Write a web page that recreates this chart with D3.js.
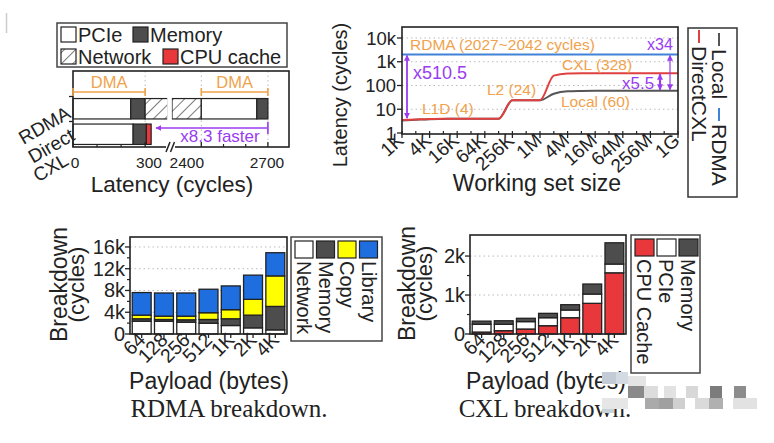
<!DOCTYPE html>
<html><head><meta charset="utf-8">
<script src="https://cdn.jsdelivr.net/npm/d3@7"></script>
<style>
body{margin:0;background:#fff}
svg{display:block}
text{font-family:"Liberation Sans",Arial,Helvetica,sans-serif;fill:#222}
</style>
</head><body>
<svg id="c" width="774" height="443"></svg>
<script>
// ---------------- DATA ----------------
// Panel A: latency breakdown (cycles)
const latCategories = ["RDMA", "Direct CXL"];
const rdmaStages = ["PCIe", "Memory", "Network", "PCIe", "Memory"];
const rdmaStageCycles = [240, 60, 2100, 250, 50];
const cxlStages = ["PCIe", "Memory", "CPU cache"];
const cxlStageCycles = [250, 55, 20];
const latTickValues = [0, 300, 2400, 2700];
const latMinorTicks = [100, 200, 2500, 2600];

// Panel B: latency vs working set size
const wsBytes = [1024, 2048, 4096, 8192, 16384, 32768, 65536, 131072, 262144, 524288,
  1048576, 2097152, 4194304, 8388608, 16777216, 33554432, 67108864, 134217728,
  268435456, 536870912, 1073741824];
const directCxlLatency = [3.5, 3.7, 3.9, 4, 4, 4, 4, 4, 24, 24, 24, 260, 318, 326, 328, 328, 328, 328, 328, 328, 328];
const localLatency = [3.4, 3.6, 3.8, 3.9, 4, 4, 4, 4, 24, 24, 24, 45, 57, 59, 60, 60, 60, 60, 60, 60, 60];
const rdmaLatency = [2035, 2035, 2035, 2035, 2035, 2035, 2035, 2035, 2035, 2035, 2035, 2035, 2035, 2035, 2035, 2035, 2035, 2035, 2035, 2035, 2035];
const wsTickBytes = [1024, 4096, 16384, 65536, 262144, 1048576, 4194304, 16777216, 67108864, 268435456, 1073741824];
const wsTickLabels = ["1K", "4K", "16K", "64K", "256K", "1M", "4M", "16M", "64M", "256M", "1G"];
const latencyTicks = [1, 10, 100, 1000, 10000];
const latencyTickLabels = ["1", "10", "100", "1k", "10k"];

// Panel C: RDMA breakdown (cycles)
const payloads = ["64", "128", "256", "512", "1K", "2K", "4K"];
const rdmaNetwork = [2350, 2350, 2170, 1980, 1560, 1130, 760];
const rdmaMemory = [450, 320, 440, 690, 1240, 2340, 4310];
const rdmaCopy = [670, 610, 670, 1240, 1670, 2900, 5610];
const rdmaLibrary = [4150, 4260, 4260, 4320, 4370, 4450, 4260];
const rdmaTicks = [0, 4000, 8000, 12000, 16000];
const rdmaTickLabels = ["0", "4k", "8k", "12k", "16k"];

// Panel D: CXL breakdown (cycles)
const cxlCache = [50, 85, 128, 213, 418, 787, 1570];
const cxlPcie = [200, 165, 190, 205, 197, 238, 225];
const cxlMemory = [80, 90, 85, 112, 137, 257, 545];
const cxlTicks = [0, 1000, 2000];
const cxlTickLabels = ["0", "1k", "2k"];

// ---------------- STYLE ----------------
const COL = {
  pcie: "#ffffff", memory: "#4d4d4d", cache: "#e8383b", copy: "#ffff00",
  library: "#1e6ee0", orange: "#f0a24c", purple: "#9a3cf0",
  red: "#e04040", blue: "#3f82d8", gray: "#555555", frame: "#222"
};
const svg = d3.select("#c");
const defs = svg.append("defs");
const hatch = defs.append("pattern").attr("id", "hatch").attr("patternUnits", "userSpaceOnUse")
  .attr("width", 8).attr("height", 8).attr("patternTransform", "rotate(45)");
hatch.append("rect").attr("width", 8).attr("height", 8).attr("fill", "#fff");
hatch.append("line").attr("x1", 0).attr("y1", 0).attr("x2", 0).attr("y2", 8)
  .attr("stroke", "#333").attr("stroke-width", 1.3);
const mk = defs.append("marker").attr("id", "ah").attr("viewBox", "0 0 10 10")
  .attr("refX", 9).attr("refY", 5).attr("markerWidth", 6).attr("markerHeight", 6)
  .attr("markerUnits", "userSpaceOnUse").attr("orient", "auto-start-reverse");
mk.append("path").attr("d", "M0,0L10,5L0,10Z").attr("fill", COL.purple);

function txt(g, x, y, s, size, opt = {}) {
  const t = g.append("text").attr("x", x).attr("y", y).text(s)
    .style("font-size", size + "px").attr("text-anchor", opt.anchor || "start");
  if (opt.fill) t.style("fill", opt.fill);
  if (opt.rot !== undefined) t.attr("x", 0).attr("y", 0).attr("transform", `translate(${x},${y}) rotate(${opt.rot})`);
  if (opt.family) t.style("font-family", opt.family);
  return t;
}
function frame(g, l, t, r, b) {
  g.append("rect").attr("x", l).attr("y", t).attr("width", r - l).attr("height", b - t)
    .attr("fill", "none").attr("stroke", COL.frame).attr("stroke-width", 1.6);
}
function vArrow(g, x, y1, y2, w) {
  g.append("line").attr("x1", x).attr("x2", x).attr("y1", y1).attr("y2", y2)
    .attr("stroke", COL.purple).attr("stroke-width", w)
    .attr("marker-start", "url(#ah)").attr("marker-end", "url(#ah)");
}

// faint artifact line top-left
svg.append("line").attr("x1", 6.5).attr("x2", 6.5).attr("y1", 13).attr("y2", 33).attr("stroke", "#ccc").attr("stroke-width", 1.5);

// ================= PANEL A =================
{
  const g = svg.append("g");
  const L = 73, R = 289, T = 71, B = 147;
  const x1 = d3.scaleLinear().domain([0, 395]).range([L, 168]);
  const x2 = d3.scaleLinear().domain([2268, 2795]).range([172, R]);
  const brk = [395, 2268];
  const xA = v => v <= brk[0] ? x1(v) : x2(v);
  const y = d3.scaleBand().domain(latCategories).range([96, 147]).paddingInner(0.2).paddingOuter(0.1);

  // legend
  g.append("rect").attr("x", 57).attr("y", 23).attr("width", 230).attr("height", 44)
    .attr("fill", "#fff").attr("stroke", "#444").attr("stroke-width", 1.5);
  const leg = [["PCIe", COL.pcie, 61, 27], ["Memory", COL.memory, 133, 27],
               ["Network", "url(#hatch)", 61, 49], ["CPU cache", COL.cache, 163, 49]];
  leg.forEach(([n, c, lx, ly]) => {
    g.append("rect").attr("x", lx).attr("y", ly).attr("width", 15).attr("height", 15)
      .attr("fill", c).attr("stroke", "#222").attr("stroke-width", 1.2);
    txt(g, lx + 17, ly + 15, n, 20);
  });

  // dotted grid
  [300, 2400, 2700].forEach(v => g.append("line").attr("x1", xA(v)).attr("x2", xA(v))
    .attr("y1", T).attr("y2", B).attr("stroke", "#bbb").attr("stroke-dasharray", "1.5,3"));

  // bars
  const colorOf = { "PCIe": COL.pcie, "Memory": COL.memory, "Network": "url(#hatch)", "CPU cache": COL.cache };
  function drawBar(cat, stages, cycles) {
    let acc = 0;
    stages.forEach((s, i) => {
      const a = acc, b = acc + cycles[i]; acc = b;
      const pieces = (a < brk[0] && b > brk[1]) ? [[a, brk[0]], [brk[1], b]] : [[a, b]];
      pieces.forEach(([p, q]) => g.append("rect").attr("x", xA(p)).attr("y", y(cat))
        .attr("width", xA(q) - xA(p)).attr("height", y.bandwidth())
        .attr("fill", colorOf[s]).attr("stroke", "#222").attr("stroke-width", 1.2));
    });
  }
  drawBar("RDMA", rdmaStages, rdmaStageCycles);
  drawBar("Direct CXL", cxlStages, cxlStageCycles);
  // break gap
  g.append("rect").attr("x", 167.2).attr("y", y("RDMA") - 2).attr("width", 4.6).attr("height", y.bandwidth() + 4).attr("fill", "#fff");

  frame(g, L, T, R, B);
  // break mark on axis
  g.append("rect").attr("x", 166).attr("y", B - 2).attr("width", 9).attr("height", 4).attr("fill", "#fff");
  [[166, 170], [170.5, 174.5]].forEach(([a, b]) => g.append("line").attr("x1", a).attr("y1", B + 5)
    .attr("x2", b).attr("y2", B - 5).attr("stroke", "#222").attr("stroke-width", 1.5));

  // ticks
  latTickValues.forEach(v => g.append("line").attr("x1", xA(v)).attr("x2", xA(v)).attr("y1", B).attr("y2", B - 5).attr("stroke", "#222").attr("stroke-width", 1.3));
  latMinorTicks.forEach(v => g.append("line").attr("x1", xA(v)).attr("x2", xA(v)).attr("y1", B).attr("y2", B - 3).attr("stroke", "#222").attr("stroke-width", 1.2));
  [96.5, 121.5].forEach(v => g.append("line").attr("x1", L).attr("x2", L - 4).attr("y1", v).attr("y2", v).attr("stroke", "#222").attr("stroke-width", 1.3));
  const tickPos = [[0, 75, "middle"], [300, 149, "middle"], [2400, 204, "end"], [2700, 267, "middle"]];
  tickPos.forEach(([v, px, an]) => txt(g, px, 167.5, String(v), 15.5, { anchor: an }));
  txt(g, 172, 191.5, "Latency (cycles)", 22.5, { anchor: "middle" });

  // category labels
  txt(g, 72, 117, "RDMA", 19, { anchor: "end", rot: -30 });
  txt(g, 76, 139, "Direct", 19, { anchor: "end", rot: -30 });
  txt(g, 70, 164, "CXL", 19, { anchor: "end", rot: -30 });

  // DMA brackets
  [[0, 300], [2400, 2700]].forEach(([a, b]) => {
    const xa = xA(a), xb = xA(b), yy = 92;
    g.append("path").attr("d", `M${xa},${yy - 4}V${yy + 4}M${xa},${yy}H${xb}M${xb},${yy - 4}V${yy + 4}`)
      .attr("stroke", COL.orange).attr("stroke-width", 1.6).attr("fill", "none");
    txt(g, (xa + xb) / 2, 88, "DMA", 16.5, { anchor: "middle", fill: COL.orange });
  });
  // x8.3 faster arrow
  const ax = xA(2700), ay = 128;
  g.append("line").attr("x1", ax).attr("x2", 156).attr("y1", ay).attr("y2", ay)
    .attr("stroke", COL.purple).attr("stroke-width", 1.6).attr("marker-end", "url(#ah)");
  g.append("line").attr("x1", ax).attr("x2", ax).attr("y1", ay - 6).attr("y2", ay + 6)
    .attr("stroke", COL.purple).attr("stroke-width", 1.6);
  txt(g, 220, 142, "x8.3 faster", 17, { anchor: "middle", fill: COL.purple });
}

// ================= PANEL B =================
{
  const g = svg.append("g");
  const L = 402, R = 678, T = 27, B = 134;
  const x = d3.scaleLog().base(2).domain([1024, 1073741824]).range([L, R]);
  const y = d3.scaleLog().domain([1, 10000]).range([133, 38]);

  latencyTicks.forEach((v, i) => {
    if (v > 1) g.append("line").attr("x1", L).attr("x2", R).attr("y1", y(v)).attr("y2", y(v))
      .attr("stroke", "#bbb").attr("stroke-dasharray", "1.5,3");
    g.append("line").attr("x1", L).attr("x2", L - 5).attr("y1", y(v)).attr("y2", y(v)).attr("stroke", "#222").attr("stroke-width", 1.3);
    txt(g, L - 6, y(v) + 6.5, latencyTickLabels[i], 18.5, { anchor: "end" });
  });
  wsBytes.forEach(v => g.append("line").attr("x1", x(v)).attr("x2", x(v)).attr("y1", B).attr("y2", B - 3).attr("stroke", "#222").attr("stroke-width", 1.2));
  wsTickBytes.forEach((v, i) => {
    g.append("line").attr("x1", x(v)).attr("x2", x(v)).attr("y1", B).attr("y2", B + 4).attr("stroke", "#222").attr("stroke-width", 1.3);
    txt(g, x(v) + 3, B + 8, wsTickLabels[i], 19, { anchor: "end", rot: -42 });
  });

  const line = d3.line().x(d => x(d[0])).y(d => y(d[1])).curve(d3.curveMonotoneX);
  const series = [[rdmaLatency, COL.blue], [localLatency, COL.gray], [directCxlLatency, COL.red]];
  series.forEach(([vals, c]) => g.append("path").datum(wsBytes.map((b, i) => [b, vals[i]]))
    .attr("d", line).attr("fill", "none").attr("stroke", c).attr("stroke-width", 2));

  frame(g, L, T, R, B);

  // annotations
  const o = COL.orange;
  txt(g, 410, 50, "RDMA (2027~2042 cycles)", 15.5, { fill: o });
  txt(g, 422, 114, "L1D (4)", 15.5, { fill: o });
  txt(g, 487, 95, "L2 (24)", 15.5, { fill: o });
  txt(g, 562, 70, "CXL (328)", 15.5, { fill: o });
  txt(g, 561, 107, "Local (60)", 15.5, { fill: o });
  txt(g, 413, 79, "x510.5", 18, { fill: COL.purple });
  txt(g, 622, 89, "x5.5", 17, { fill: COL.purple });
  txt(g, 647, 50, "x34", 16, { fill: COL.purple });
  vArrow(g, 407, y(2035) + 1, y(3.8) - 1, 1.8);
  vArrow(g, 660, y(328) + 1, y(60) - 1, 2.2);
  vArrow(g, 670, y(2035) + 1, y(60) - 1, 1.2);

  txt(g, 347, 95, "Latency (cycles)", 20, { anchor: "middle", rot: -90 });
  txt(g, 537, 191, "Working set size", 23, { anchor: "middle" });

  // legend (rotated)
  g.append("rect").attr("x", 688).attr("y", 28).attr("width", 49).attr("height", 169)
    .attr("fill", "#fff").attr("stroke", "#333").attr("stroke-width", 1.5);
  const legItems = [["Local", COL.gray, 712, 33], ["RDMA", COL.blue, 712, 108], ["DirectCXL", COL.red, 692, 30]];
  legItems.forEach(([n, c, bx, y0]) => {
    g.append("line").attr("x1", bx + 7).attr("x2", bx + 7).attr("y1", y0).attr("y2", y0 + 13)
      .attr("stroke", c).attr("stroke-width", 2);
    txt(g, bx, y0 + 16, n, 21, { rot: 90 });
  });
}

// ================= PANELS C & D =================
function stackedPanel(opt) {
  const g = svg.append("g");
  const { L, R, T, B, ymax, keys, cols, vals, ticks, tickLabels, minor } = opt;
  const x = d3.scaleBand().domain(payloads).range([L, R]).paddingInner(0.15).paddingOuter(0.1);
  const y = d3.scaleLinear().domain([0, ymax]).range([B, T]);
  ticks.forEach((v, i) => {
    if (v > 0) g.append("line").attr("x1", L).attr("x2", R).attr("y1", y(v)).attr("y2", y(v))
      .attr("stroke", "#bbb").attr("stroke-dasharray", "1.5,3");
    g.append("line").attr("x1", L).attr("x2", L - 5).attr("y1", y(v)).attr("y2", y(v)).attr("stroke", "#222").attr("stroke-width", 1.3);
    txt(g, L - 5, y(v) + 7, tickLabels[i], 20, { anchor: "end" });
  });
  minor.forEach(v => g.append("line").attr("x1", L).attr("x2", L - 3).attr("y1", y(v)).attr("y2", y(v)).attr("stroke", "#222").attr("stroke-width", 1.2));
  const rows = payloads.map((p, i) => { const r = { p }; keys.forEach((k, j) => r[k] = vals[j][i]); return r; });
  const st = d3.stack().keys(keys)(rows);
  st.forEach((layer, j) => g.selectAll(null).data(layer).join("rect")
    .attr("x", d => x(d.data.p)).attr("width", x.bandwidth())
    .attr("y", d => y(d[1])).attr("height", d => y(d[0]) - y(d[1]))
    .attr("fill", cols[j]).attr("stroke", "#222").attr("stroke-width", 1.3));
  frame(g, L, T, R, B);
  payloads.forEach(p => {
    const cx = x(p) + x.bandwidth() / 2;
    g.append("line").attr("x1", cx).attr("x2", cx).attr("y1", B).attr("y2", B + 4).attr("stroke", "#222").attr("stroke-width", 1.3);
    txt(g, cx + 5, B + 7, p, 19.5, { anchor: "end", rot: -45 });
  });
  txt(g, opt.yl1, (T + B) / 2 - 1, "Breakdown", 23, { anchor: "middle", rot: -90 });
  txt(g, opt.yl2, (T + B) / 2 - 1, "(cycles)", 22, { anchor: "middle", rot: -90 });
  txt(g, opt.xlx, 389, "Payload (bytes)", 23, { anchor: "middle" });
  txt(g, opt.capx, 417, opt.caption, 25, { anchor: "middle", family: "'Liberation Serif','Times New Roman',serif" });
  // legend
  const lg = opt.legend;
  g.append("rect").attr("x", lg.x).attr("y", T).attr("width", lg.w).attr("height", lg.h)
    .attr("fill", "#fff").attr("stroke", "#444").attr("stroke-width", 1.5);
  lg.items.forEach(([n, c], i) => {
    const sx = lg.x + 4 + i * lg.step;
    g.append("rect").attr("x", sx).attr("y", T + 4).attr("width", lg.sw).attr("height", 17)
      .attr("fill", c).attr("stroke", "#222").attr("stroke-width", 1.2);
    txt(g, sx + 2, T + 24, n, 20, { rot: 90 });
  });
}

stackedPanel({
  L: 130, R: 287, T: 237, B: 334, ymax: 17830,
  keys: ["Network", "Memory", "Copy", "Library"],
  cols: [COL.pcie, COL.memory, COL.copy, COL.library],
  vals: [rdmaNetwork, rdmaMemory, rdmaCopy, rdmaLibrary],
  ticks: rdmaTicks, tickLabels: rdmaTickLabels, minor: [2000, 6000, 10000, 14000],
  yl1: 67, yl2: 84, xlx: 209, capx: 229, caption: "RDMA breakdown.",
  legend: { x: 291, w: 91, h: 104, step: 21.5, sw: 18,
    items: [["Network", COL.pcie], ["Memory", COL.memory], ["Copy", COL.copy], ["Library", COL.library]] }
});

stackedPanel({
  L: 470, R: 626, T: 235, B: 334, ymax: 2540,
  keys: ["CPU Cache", "PCIe", "Memory"],
  cols: [COL.cache, COL.pcie, COL.memory],
  vals: [cxlCache, cxlPcie, cxlMemory],
  ticks: cxlTicks, tickLabels: cxlTickLabels, minor: [500, 1500],
  yl1: 415, yl2: 432, xlx: 546, capx: 545, caption: "CXL breakdown.",
  legend: { x: 631, w: 69, h: 138, step: 22, sw: 19,
    items: [["CPU Cache", COL.cache], ["PCIe", COL.pcie], ["Memory", COL.memory]] }
});

// pixelated watermark overlay (bottom right)
const blocks = [
  [602, 372, 14, 12, "#c3ccd6"], [616, 372, 12, 12, "#d4dae2"], [628, 376, 18, 10, "#e4e4e4"],
  [628, 386, 16, 12, "#8a8a8a"], [644, 386, 14, 12, "#dcdcdc"], [664, 386, 12, 12, "#e2e2e2"],
  [686, 386, 12, 12, "#d8d8d8"], [710, 386, 12, 12, "#7c7c7c"], [734, 386, 12, 12, "#8c8c8c"],
  [602, 398, 26, 11, "#e6e6e6"], [645, 398, 14, 11, "#aaaaaa"], [659, 398, 14, 11, "#a0a0a0"],
  [673, 398, 12, 11, "#d0d0d0"], [695, 398, 14, 11, "#dadada"], [709, 398, 14, 11, "#b0b0b0"],
  [733, 398, 24, 11, "#e2e2e2"], [602, 409, 12, 4, "#c8d0d8"]
];
blocks.forEach(([bx, by, bw, bh, c]) => svg.append("rect").attr("x", bx).attr("y", by).attr("width", bw).attr("height", bh).attr("fill", c));
</script>
</body></html>
